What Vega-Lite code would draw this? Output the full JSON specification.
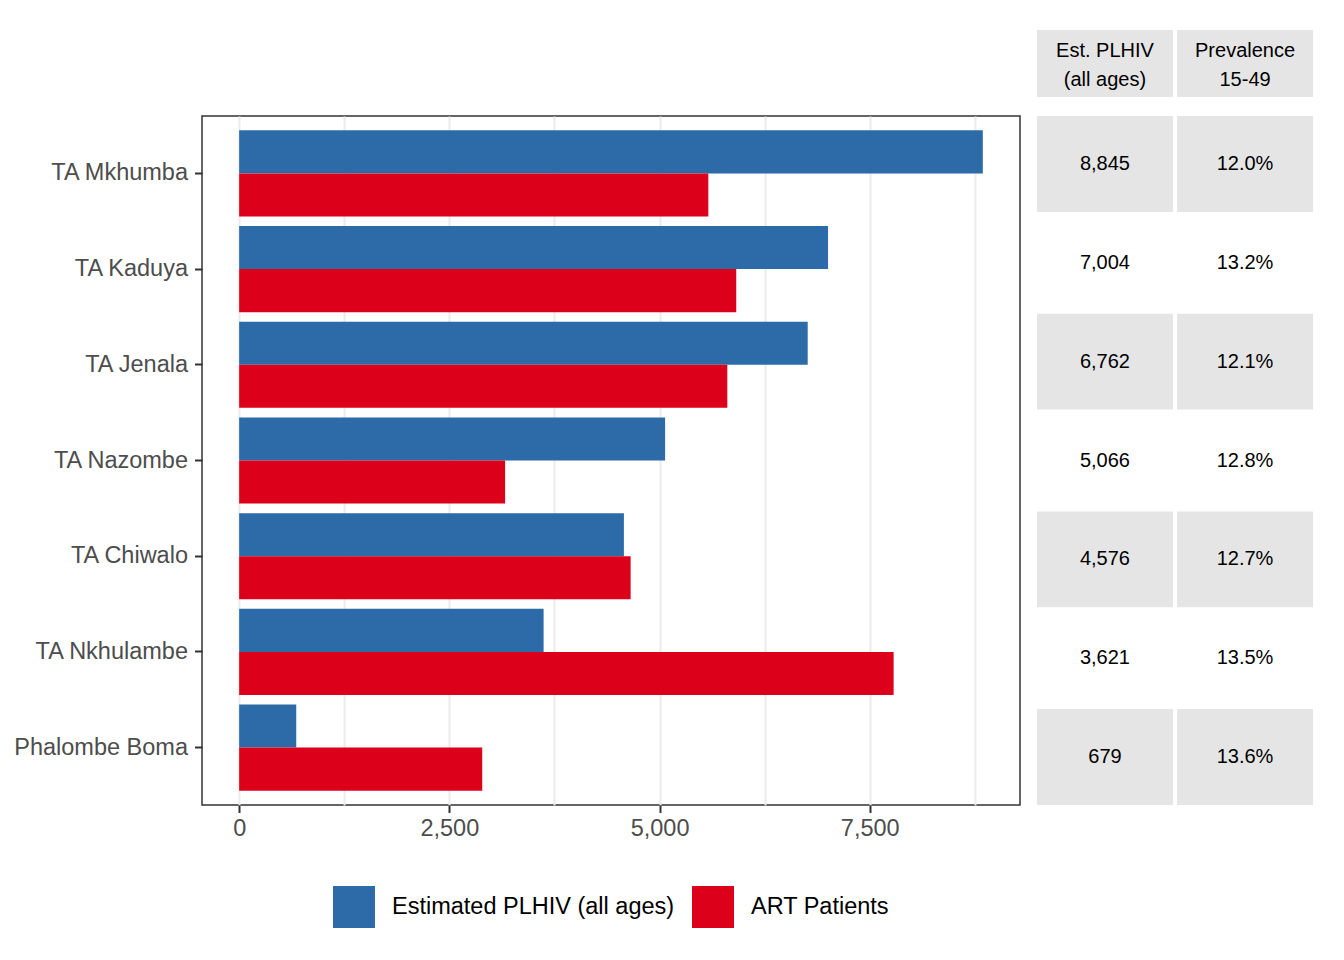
{
  "$schema": "https://vega.github.io/schema/vega-lite/v6.json",
  "padding": {"left": 13, "top": 30, "right": 5, "bottom": 5},
  "background": "white",
  "config": {"font": "Liberation Sans", "view": {"stroke": null}, "legend": {"layout": {"bottom": {"anchor": "middle"}}}},
  "datasets": {
    "regions": [
      {"rank": 1, "region": "TA Mkhumba", "plhiv": 8845, "art": 5580, "prev": 0.120},
      {"rank": 2, "region": "TA Kaduya", "plhiv": 7004, "art": 5912, "prev": 0.132},
      {"rank": 3, "region": "TA Jenala", "plhiv": 6762, "art": 5806, "prev": 0.121},
      {"rank": 4, "region": "TA Nazombe", "plhiv": 5066, "art": 3163, "prev": 0.128},
      {"rank": 5, "region": "TA Chiwalo", "plhiv": 4576, "art": 4656, "prev": 0.127},
      {"rank": 6, "region": "TA Nkhulambe", "plhiv": 3621, "art": 7784, "prev": 0.135},
      {"rank": 7, "region": "Phalombe Boma", "plhiv": 679, "art": 2891, "prev": 0.136}
    ],
    "header": [
      {"col": "plhiv", "label": "Est. PLHIV\n(all ages)"},
      {"col": "prev", "label": "Prevalence\n15-49"}
    ]
  },
  "columns": 2,
  "spacing": {"row": 18, "column": 16},
  "align": "each",
  "resolve": {"scale": {"color": "independent"}, "legend": {"color": "independent"}},
  "concat": [
    {
      "width": 10, "height": 67,
      "data": {"values": [{}]},
      "mark": {"type": "text"},
      "encoding": {"text": {"value": ""}}
    },
    {
      "width": 276, "height": 67,
      "data": {"name": "header"},
      "encoding": {
        "x": {"field": "col", "type": "nominal", "scale": {"domain": ["plhiv", "prev"], "paddingInner": 0.03, "paddingOuter": 0}, "axis": null}
      },
      "layer": [
        {"mark": {"type": "rect", "fill": "#E5E5E5"}},
        {"mark": {"type": "text", "fontSize": 20, "lineBreak": "\n", "lineHeight": 29, "baseline": "middle", "dy": -12.5, "color": "black"},
         "encoding": {"text": {"field": "label"}}}
      ]
    },
    {
      "width": 818, "height": 689,
      "view": {"stroke": "#333333", "strokeWidth": 1.5},
      "data": {"name": "regions"},
      "transform": [{"fold": ["plhiv", "art"], "as": ["series", "count"]}],
      "mark": {"type": "bar"},
      "encoding": {
        "y": {"field": "region", "type": "nominal", "sort": {"field": "rank", "op": "min"},
              "scale": {"paddingInner": 0.1, "paddingOuter": 0.15},
              "axis": {"title": null, "labelFontSize": 23.5, "labelColor": "#4D4D4D", "tickColor": "#333333", "tickWidth": 2, "tickSize": 7.5, "domain": false, "labelPadding": 7}},
        "yOffset": {"field": "series", "sort": ["plhiv", "art"]},
        "x": {"field": "count", "type": "quantitative",
              "scale": {"domain": [-442, 9287], "nice": false, "zero": false},
              "axis": {"title": null, "values": [0, 1250, 2500, 3750, 5000, 6250, 7500, 8750],
                       "labelExpr": "datum.value % 2500 === 0 ? format(datum.value, ',') : ''",
                       "labelFontSize": 23.5, "labelColor": "#4D4D4D", "tickColor": "#333333", "tickWidth": 2, "tickSize": 7.5,
                       "tickOpacity": {"condition": {"test": "datum.value % 2500 === 0", "value": 1}, "value": 0},
                       "domain": false, "grid": true, "gridColor": "#EBEBEB", "gridWidth": 2, "labelPadding": 3.5}},
        "color": {"field": "series", "type": "nominal",
                  "scale": {"domain": ["plhiv", "art"], "range": ["#2C6BA8", "#DC001A"]},
                  "legend": {"title": null, "orient": "bottom", "direction": "horizontal",
                             "labelExpr": "datum.value === 'plhiv' ? 'Estimated PLHIV (all ages)' : 'ART Patients'",
                             "symbolType": "square", "symbolSize": 1764, "symbolStrokeWidth": 0, "symbolOpacity": 1,
                             "labelFontSize": 23.5, "labelColor": "black", "labelLimit": 500, "columnPadding": 17, "labelOffset": 17, "offset": 46}}
      }
    },
    {
      "width": 276, "height": 689,
      "data": {"name": "regions"},
      "encoding": {
        "y": {"field": "region", "type": "nominal", "sort": {"field": "rank", "op": "min"},
              "scale": {"paddingInner": 0.03, "paddingOuter": 0}, "axis": null}
      },
      "layer": [
        {"transform": [{"fold": ["plhiv", "prev"]}],
         "mark": {"type": "rect"},
         "encoding": {
           "x": {"field": "key", "type": "nominal", "scale": {"domain": ["plhiv", "prev"], "paddingInner": 0.03, "paddingOuter": 0}, "axis": null},
           "fill": {"condition": {"test": "datum.rank % 2 === 1", "value": "#E5E5E5"}, "value": "white"}
         }},
        {"mark": {"type": "text", "fontSize": 20, "color": "black"},
         "encoding": {"x": {"datum": "plhiv", "type": "nominal"}, "text": {"field": "plhiv", "format": ",d"}}},
        {"mark": {"type": "text", "fontSize": 20, "color": "black"},
         "encoding": {"x": {"datum": "prev", "type": "nominal"}, "text": {"field": "prev", "format": ".1%"}}}
      ]
    }
  ]
}
